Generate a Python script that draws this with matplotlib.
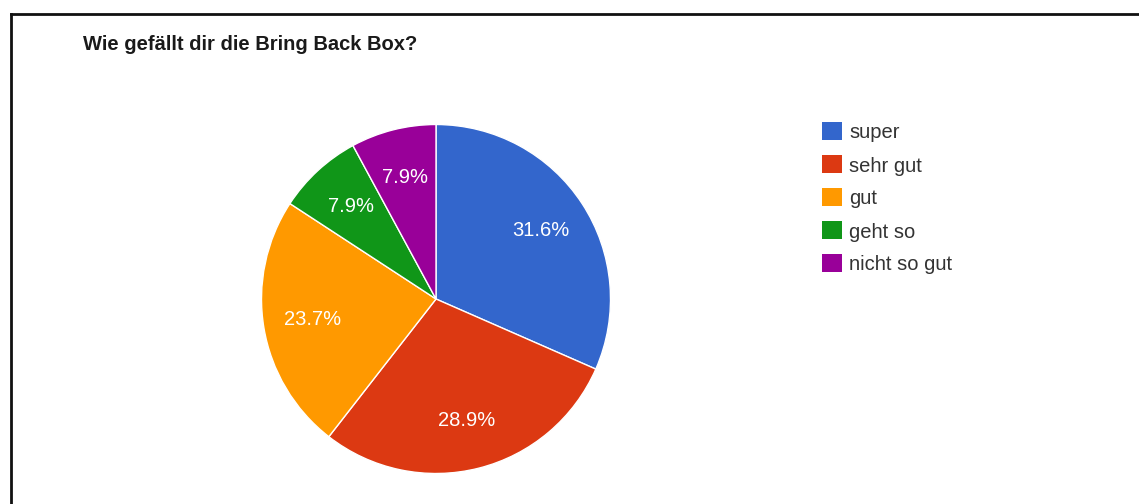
import matplotlib.pyplot as plt
from matplotlib.patches import Rectangle

plt.rcParams['font.family'] = ['Liberation Sans', 'DejaVu Sans']

titel = "Wie gefällt dir die Bring Back Box?"
kategorien = ["super", "sehr gut", "gut", "geht so", "nicht so gut"]
anzahl = [12, 11, 9, 3, 3]
farben = ["#3366cc", "#dc3912", "#ff9900", "#109618", "#990099"]

W, H = 1139, 504
fig = plt.figure(figsize=(W / 100, H / 100), dpi=100)
ax = fig.add_axes([0, 0, 1, 1])
ax.set_xlim(0, W)
ax.set_ylim(H, 0)
ax.axis("off")

# pie in eigener achse (sonst dreht sich die richtung um)
pax = fig.add_axes([0, 0, 1, 1])
wedges, texts, autotexts = pax.pie(
    anzahl, colors=farben, startangle=90, counterclock=False,
    center=(436, H - 299), radius=174.5, frame=True,
    autopct="%1.1f%%", pctdistance=0.72,
    wedgeprops=dict(edgecolor="white", linewidth=1),
    textprops=dict(color="white", fontsize=14.5))
pax.set_xlim(0, W)
pax.set_ylim(0, H)
pax.axis("off")

# rahmen
ax.plot([11, W], [14, 14], color="#111111", lw=2)
ax.plot([11, 11], [14, H], color="#111111", lw=2)

ax.text(83, 44, titel, fontsize=14.5, fontweight="bold", color="#1a1a1a", va="center")

# legende
for i, (name, farbe) in enumerate(zip(kategorien, farben)):
    y = 131 + i * 33
    ax.add_patch(Rectangle((822, y - 9), 20, 18, facecolor=farbe, edgecolor="none"))
    ax.text(849, y + 2, name, fontsize=14.5, color="#333333", va="center")

fig.savefig("out.png", dpi=100)
